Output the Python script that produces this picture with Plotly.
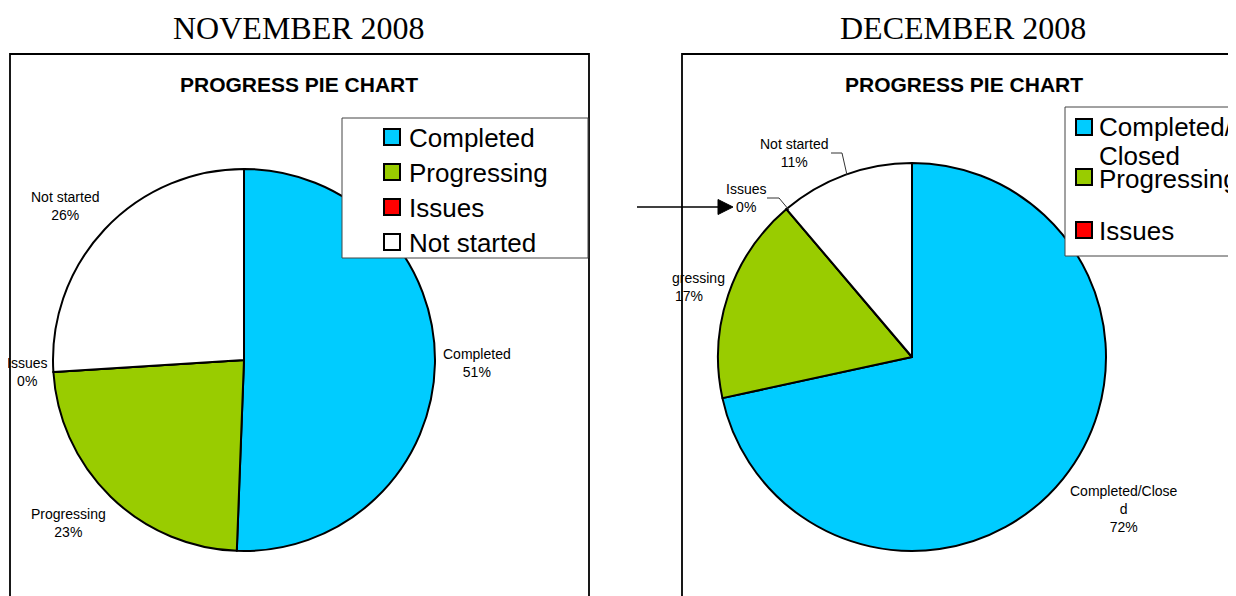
import plotly.graph_objects as go

# page body adds an 8px margin; figure is sized to fit the window
OFF = 8
W, H = 1236 - OFF, 596 - OFF

# ---------------- data ----------------
month_titles = ["NOVEMBER 2008", "DECEMBER 2008"]
chart_title = "PROGRESS PIE CHART"
nov_categories = ["Completed", "Progressing", "Issues", "Not started"]
nov_values = [50.6, 23.4, 0.0, 26.0]
dec_categories = ["Completed/Closed", "Progressing", "Issues", "Not started"]
dec_values = [71.6, 17.2, 0.0, 11.2]
slice_colors = ["#00CCFF", "#99CC00", "#FF0000", "#FFFFFF"]

SANS = "Arial, Liberation Sans, sans-serif"
SERIF = "Times New Roman, Liberation Serif, serif"


def px(x):
    return (x - OFF) / W


def py(y):
    return 1 - (y - OFF) / H


def pct(values, i):
    return f"{round(values[i] / sum(values) * 100)}%"


fig = go.Figure()


def add_pie(labels, values, cx, cy, r):
    fig.add_trace(go.Pie(
        labels=labels, values=values, sort=False, direction="clockwise", rotation=0,
        marker=dict(colors=slice_colors, line=dict(color="black", width=2)),
        textinfo="none", hoverinfo="label+percent", showlegend=False,
        domain=dict(x=[px(cx - r), px(cx + r)], y=[py(cy + r), py(cy - r)]),
    ))


add_pie(nov_categories, nov_values, 244, 360, 191)
add_pie(dec_categories, dec_values, 912, 357, 194)

shapes = []
annotations = []


def rect(x0, y0, x1, y1, line_color="black", width=1.5, fill=None):
    shapes.append(dict(type="rect", xref="paper", yref="paper",
                       x0=px(x0), x1=px(x1), y0=py(y1), y1=py(y0),
                       line=dict(color=line_color, width=width),
                       fillcolor=fill if fill else "rgba(0,0,0,0)", layer="above"))


def text(x, y, t, size=14, family=SANS, xanchor="center", bold=False, align="center"):
    if bold:
        t = f"<b>{t}</b>"
    annotations.append(dict(x=px(x), y=py(y), xref="paper", yref="paper", text=t,
                            showarrow=False, xanchor=xanchor, yanchor="middle", align=align,
                            font=dict(size=size, family=family, color="black")))


def path(points, color="black", width=1, fill=None, close=False):
    d = "M " + " L ".join(f"{px(x)},{py(y)}" for x, y in points)
    if close:
        d += " Z"
    shapes.append(dict(type="path", xref="paper", yref="paper", path=d,
                       line=dict(color=color, width=width),
                       fillcolor=fill if fill else "rgba(0,0,0,0)", layer="above"))


# chart frames
rect(10, 54, 589, 620, width=1.8)
rect(682, 54, 1260, 620, width=1.8)

# titles
text(299, 28, month_titles[0], size=32, family=SERIF)
text(963, 28, month_titles[1], size=32, family=SERIF)
text(299, 85, chart_title, size=21, bold=True)
text(964, 85, chart_title, size=21, bold=True)

# ---------------- November legend ----------------
rect(342, 118, 588, 258, line_color="#444444", width=1, fill="white")
for i, lab in enumerate(nov_categories):
    yc = 137 + 35 * i
    rect(384, yc - 8, 400, yc + 8, width=2, fill=slice_colors[i])
    text(407, yc + 1, lab, size=26, xanchor="left")

# ---------------- December legend ----------------
rect(1065, 107, 1260, 256, line_color="#444444", width=1, fill="white")
dec_rows = [127, 177, 230]
for i, yc in enumerate(dec_rows):
    rect(1076, yc - 8, 1092, yc + 8, width=2, fill=slice_colors[i])
first = dec_categories[0].split("/")
text(1097, 127, first[0] + "/", size=26, xanchor="left")
text(1097, 156, first[1], size=26, xanchor="left")
text(1097, 179, dec_categories[1], size=26, xanchor="left")
text(1097, 231, dec_categories[2], size=26, xanchor="left")

# ---------------- November slice labels ----------------
text(477, 363, f"{nov_categories[0]}<br>{pct(nov_values, 0)}")
text(68, 523, f"{nov_categories[1]}<br>{pct(nov_values, 1)}")
text(27, 372, f"{nov_categories[2]}<br>{pct(nov_values, 2)}")
text(65, 206, f"{nov_categories[3]}<br>{pct(nov_values, 3)}")

# ---------------- December slice labels ----------------
lab0 = dec_categories[0]
text(1124, 509, f"{lab0[:15]}<br>{lab0[15:]}<br>{pct(dec_values, 0)}")
text(670, 278, dec_categories[1][3:], xanchor="left")
text(673, 296, pct(dec_values, 1), xanchor="left")
text(746, 198, f"{dec_categories[2]}<br>{pct(dec_values, 2)}")
text(794, 153, f"{dec_categories[3]}<br>{pct(dec_values, 3)}")

# leader lines
path([(831, 153), (842, 153), (847, 175)], color="#333333", width=1)
path([(767, 198), (779, 198), (789, 210)], color="#333333", width=1)

# arrow pointing at Issues 0%
path([(637, 207), (720, 207)], color="black", width=1.5)
path([(718, 199.5), (733, 207), (718, 214.5)], color="black", width=1, fill="black", close=True)

fig.update_layout(
    width=W, height=H, margin=dict(l=0, r=0, t=0, b=0),
    paper_bgcolor="white", plot_bgcolor="white",
    shapes=shapes, annotations=annotations,
)

fig.write_html("out.html")
